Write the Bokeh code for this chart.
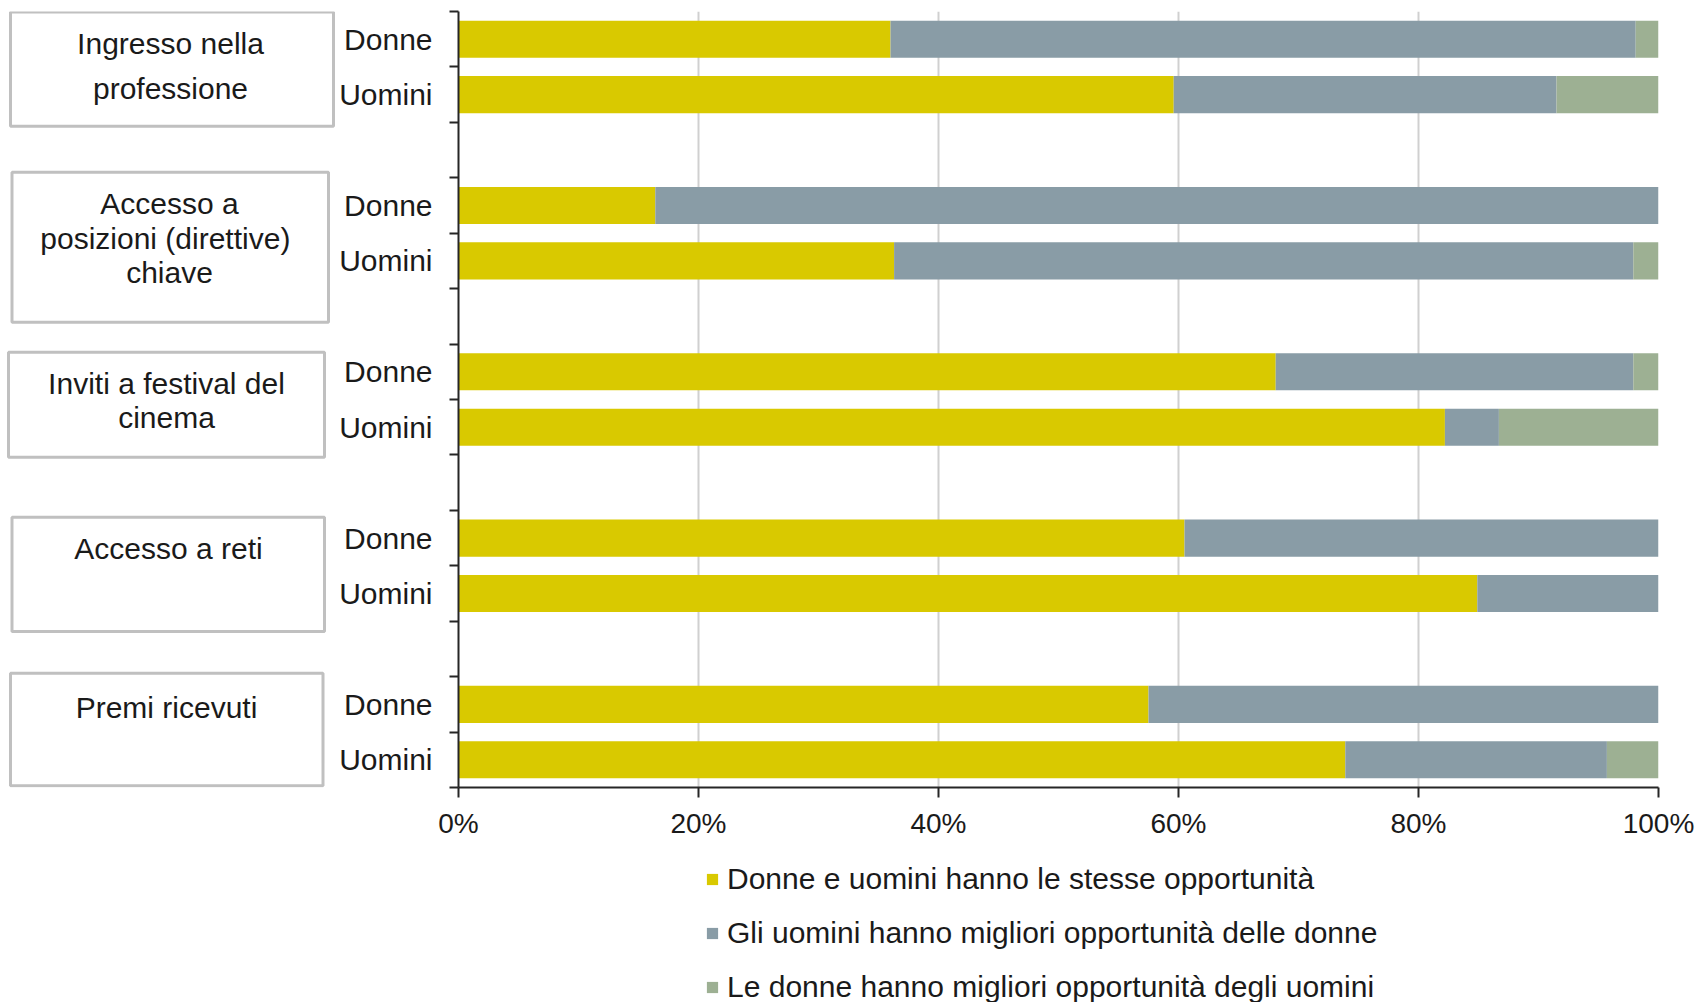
from bokeh.plotting import figure
from bokeh.layouts import row, column
from bokeh.models import (Range1d, FixedTicker, PrintfTickFormatter, Legend, LegendItem,
                          ColumnDataSource)
from bokeh.core.properties import value
from bokeh.embed import file_html
from bokeh.resources import INLINE

# ---------------- data ----------------
group_lines = [
    ["Ingresso nella", "professione"],
    ["Accesso a", "posizioni  (direttive)", "chiave"],
    ["Inviti a festival del", "cinema"],
    ["Accesso a reti"],
    ["Premi ricevuti"],
]
sexes = ["Donne", "Uomini"]
series_labels = [
    "Donne e uomini hanno le stesse opportunità",
    "Gli uomini hanno migliori opportunità delle donne",
    "Le donne hanno migliori opportunità degli uomini",
]
# percentages per group (Donne / Uomini)
stesse_donne = [36.0, 16.4, 68.1, 60.5, 57.5]
stesse_uomini = [59.6, 36.3, 82.2, 84.9, 73.9]
uomini_meglio_donne = [62.1, 83.6, 29.8, 39.5, 42.5]
uomini_meglio_uomini = [31.9, 61.6, 4.5, 15.1, 21.8]
donne_meglio_donne = [1.9, 0.0, 2.1, 0.0, 0.0]
donne_meglio_uomini = [8.5, 2.1, 13.3, 0.0, 4.3]
x_ticks = [0, 20, 40, 60, 80, 100]

# ---------------- style / layout ----------------
COLORS = ["#D9C900", "#899CA6", "#9DB093"]
FONT = "Liberation Sans"
FS = "30px"
TXT = "#1a1a1a"
W, H = 1700, 1002
LEFT_W = 336
LG_H = 156                      # height of legend strip below the chart
MAIN_H = H - LG_H
TOP, RIGHT = 11, 42
FRAME_BOTTOM = 787
BOTTOM = MAIN_H - FRAME_BOTTOM
FRAME_LEFT = 457
N_SLOTS = 14
BAR_H = 0.67

# rows: each group uses slots [3g, 3g+1] for Donne/Uomini, slot 3g+2 as gap
ys, stesse, uomini_m, donne_m, labels = [], [], [], [], {}
for g in range(len(group_lines)):
    for s, sex in enumerate(sexes):
        yc = 3 * g + s + 0.5
        ys.append(yc)
        labels[yc] = sex
        if sex == "Donne":
            stesse.append(stesse_donne[g]); uomini_m.append(uomini_meglio_donne[g]); donne_m.append(donne_meglio_donne[g])
        else:
            stesse.append(stesse_uomini[g]); uomini_m.append(uomini_meglio_uomini[g]); donne_m.append(donne_meglio_uomini[g])

src = ColumnDataSource(dict(y=ys, stesse=stesse, uomini_m=uomini_m, donne_m=donne_m))

# ---------------- main figure ----------------
p = figure(width=W - LEFT_W, height=MAIN_H, x_range=Range1d(0, 100), y_range=Range1d(N_SLOTS, 0),
           output_backend="svg", toolbar_location=None,
           min_border_left=FRAME_LEFT - LEFT_W, min_border_right=RIGHT,
           min_border_top=TOP, min_border_bottom=BOTTOM)
p.outline_line_color = None
p.background_fill_color = "white"
p.border_fill_color = "white"

rs = p.hbar_stack(["stesse", "uomini_m", "donne_m"], y="y", height=BAR_H, color=COLORS,
                  line_color=None, source=src)

# x axis
p.xaxis.ticker = FixedTicker(ticks=x_ticks, minor_ticks=[])
p.xaxis.formatter = PrintfTickFormatter(format="%d%%")
p.xaxis.major_tick_out = 10
p.xaxis.major_tick_in = 0
p.xaxis.minor_tick_out = 0
p.xaxis.axis_line_color = "#262626"
p.xaxis.axis_line_width = 2
p.xaxis.major_tick_line_color = "#262626"
p.xaxis.major_tick_line_width = 2
p.xaxis.major_label_text_font = FONT
p.xaxis.major_label_text_font_size = "28px"
p.xaxis.major_label_text_color = TXT
p.xaxis.major_label_standoff = 10

# y axis: labels at bar centres, ticks at slot boundaries
p.yaxis.ticker = FixedTicker(ticks=ys, minor_ticks=list(range(N_SLOTS + 1)))
p.yaxis.major_label_overrides = labels
p.yaxis.major_tick_out = 0
p.yaxis.major_tick_in = 0
p.yaxis.minor_tick_out = 9
p.yaxis.minor_tick_in = 0
p.yaxis.minor_tick_line_color = "#262626"
p.yaxis.minor_tick_line_width = 2
p.yaxis.axis_line_color = "#262626"
p.yaxis.axis_line_width = 2
p.yaxis.major_label_text_font = FONT
p.yaxis.major_label_text_font_size = FS
p.yaxis.major_label_text_color = TXT
p.yaxis.major_label_standoff = 17

# grid
p.xgrid.ticker = FixedTicker(ticks=x_ticks[1:])
p.xgrid.grid_line_color = "#d0d0d0"
p.xgrid.grid_line_width = 2
p.ygrid.grid_line_color = None

# ---------------- left panel with group boxes (frame aligned with main frame) ----------------
lf = figure(width=LEFT_W, height=MAIN_H, x_range=Range1d(0, LEFT_W), y_range=p.y_range,
            output_backend="svg", toolbar_location=None,
            x_axis_location=None, y_axis_location=None,
            min_border_left=0, min_border_right=0, min_border_top=TOP, min_border_bottom=BOTTOM)
lf.outline_line_color = None
lf.grid.visible = False

box_rel = [(0.01, 2.07), (-0.10, 2.605), (0.147, 2.04), (0.123, 2.185), (-0.06, 1.97)]
box_x = [(10, 333), (11.5, 328), (8, 324), (11.5, 324), (10, 322.5)]
text_rel = [[0.58, 1.39], [0.46, 1.10, 1.71], [0.71, 1.32], [0.69], [0.56]]
text_x = [170, 169, 166, 168, 166]

bl, br, bt, bb = [], [], [], []
tx, ty, tt = [], [], []
for g, lines in enumerate(group_lines):
    start = 3 * g
    bl.append(box_x[g][0]); br.append(box_x[g][1])
    bt.append(start + box_rel[g][0]); bb.append(start + box_rel[g][1])
    for line, r in zip(lines, text_rel[g]):
        tx.append(text_x[g]); ty.append(start + r); tt.append(line)

lf.quad(left=bl, right=br, top=bt, bottom=bb, fill_color="white",
        line_color="#c0c0c0", line_width=3)
lf.text(x=tx, y=ty, text=tt, text_align="center", text_baseline="middle",
        text_font=value(FONT), text_font_size=value(FS), text_color=TXT)

# ---------------- legend strip ----------------
lg = figure(width=W, height=LG_H, x_range=Range1d(0, 1), y_range=Range1d(0, 1),
            output_backend="svg", toolbar_location=None,
            x_axis_location=None, y_axis_location=None, min_border=0)
lg.outline_line_color = None
lg.grid.visible = False
# legend proxies (one row of NaN each: nothing is drawn in the strip itself)
nan = float("nan")
lg_rs = [lg.hbar(y=[nan], left=[nan], right=[nan], height=1, color=c, line_color=None)
         for c in COLORS]
legend = Legend(items=[LegendItem(label=lab, renderers=[r]) for lab, r in zip(series_labels, lg_rs)],
                location=(705, -2), orientation="vertical",
                glyph_width=14, glyph_height=14, label_height=30, spacing=20,
                label_standoff=8, padding=0, margin=0,
                border_line_color=None, background_fill_alpha=0,
                label_text_font=FONT, label_text_font_size=FS, label_text_color=TXT)
lg.add_layout(legend)

layout = column(row(lf, p), lg)
open("out.html", "w").write(file_html(layout, INLINE))
